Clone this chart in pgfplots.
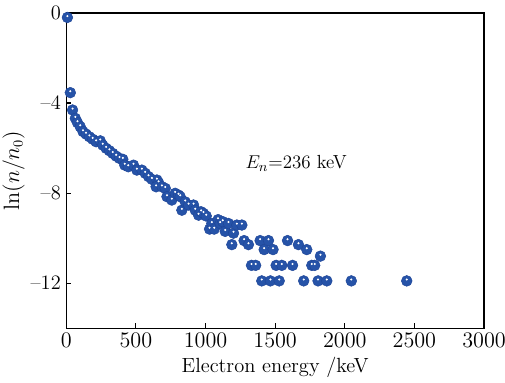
\documentclass[border=0pt]{standalone}
\usepackage{pgfplots}
\pgfplotsset{compat=1.18}
\usepackage{pgfplotstable}

\definecolor{ballblue}{HTML}{2653A8}
\definecolor{balledge}{HTML}{1F4698}

% electron energy (keV) vs ln(n/n0)
\pgfplotstableread{
E v
8 -0.20
29 -3.54
45 -4.31
65 -4.68
80 -4.87
100 -5.05
120 -5.27
142 -5.38
166 -5.50
190 -5.61
214 -5.72
244 -5.68
262 -5.87
286 -6.01
310 -6.12
334 -6.24
358 -6.36
382 -6.46
406 -6.50
420 -6.76
445 -6.83
483 -6.76
507 -6.98
543 -6.98
567 -7.12
591 -7.27
615 -7.39
651 -7.42
663 -7.54
645 -7.72
687 -7.72
711 -7.79
723 -8.16
758 -8.31
782 -8.01
806 -8.09
818 -8.16
830 -8.76
854 -8.39
878 -8.53
914 -8.53
926 -8.76
950 -8.98
968 -8.83
985 -8.90
1005 -9.02
1029 -9.60
1045 -9.35
1062 -9.60
1090 -9.18
1105 -9.35
1124 -9.27
1141 -9.70
1165 -9.35
1189 -10.29
1201 -9.78
1225 -9.42
1261 -9.42
1277 -10.11
1308 -10.29
1330 -11.21
1360 -11.21
1392 -10.11
1404 -11.90
1421 -10.51
1452 -10.11
1466 -11.90
1485 -10.51
1507 -11.21
1529 -11.90
1548 -11.21
1589 -10.11
1625 -11.21
1667 -10.29
1705 -11.90
1727 -10.51
1763 -11.21
1784 -11.21
1808 -11.90
1825 -10.80
1871 -11.90
2047 -11.90
2445 -11.90
}\spectrum

\begin{document}
\begin{tikzpicture}
\begin{axis}[
  scale only axis,
  width=271pt, height=204.5pt,
  xmin=0, xmax=3000, ymin=-14, ymax=0,
  xtick={0,500,...,3000},
  ytick={0,-4,-8,-12},
  yticklabels={0,--4,--8,--12},
  tick align=inside,
  xtick pos=bottom, ytick pos=left,
  major tick length=3.2pt,
  axis line style={line width=0.8pt},
  tick style={line width=0.7pt, black},
  scaled x ticks=false,
  tick label style={font=\fontsize{13.3}{15}\selectfont},
  label style={font=\fontsize{13.3}{15}\selectfont},
  xticklabel style={/pgf/number format/1000 sep={}},
  xlabel={Electron energy /keV},
  ylabel={$\ln(n/n_0)$},
  xlabel style={yshift=1pt},
  ylabel style={yshift=-3pt},
  clip=true,
]
% solid spheres
\addplot[only marks, mark=*, mark size=3.5pt,
  mark options={fill=ballblue, draw=balledge, line width=0.3pt}]
  table[x=E, y=v] {\spectrum};
% specular highlight on each sphere
\addplot[only marks, white, mark=*, mark size=0.45pt,
  mark options={fill=white, draw=none, yshift=0.9pt}]
  table[x=E, y=v] {\spectrum};
\node[font=\fontsize{12.3}{14}\selectfont] at (axis cs:1651,-6.67) {$E_n$=236 keV};
\end{axis}
\pgfresetboundingbox
\path (-43pt,-35pt) rectangle (284.6pt,212.9pt);
\end{tikzpicture}
\end{document}
